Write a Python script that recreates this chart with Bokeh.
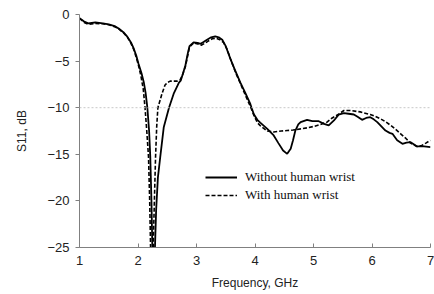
from bokeh.plotting import figure
from bokeh.models import Span, Legend, LegendItem, Range1d, FixedTicker
from bokeh.embed import file_html
from bokeh.resources import INLINE

freq_without = [1.00, 1.08, 1.15, 1.27, 1.40, 1.50, 1.60, 1.67, 1.75, 1.82, 1.88, 1.93, 1.97, 2.01, 2.06,
                2.10, 2.13, 2.16, 2.19, 2.21, 2.23, 2.245, 2.265, 2.29, 2.31, 2.34, 2.38, 2.44, 2.53, 2.61,
                2.70, 2.73, 2.77, 2.81, 2.85, 2.88, 2.95, 3.02, 3.07, 3.12, 3.18, 3.25, 3.32, 3.38, 3.44,
                3.50, 3.58, 3.66, 3.75, 3.84, 3.92, 3.98, 4.04, 4.09, 4.21, 4.32, 4.40, 4.48, 4.55, 4.61,
                4.65, 4.69, 4.74, 4.78, 4.89, 4.98, 5.09, 5.18, 5.26, 5.35, 5.43, 5.52, 5.60, 5.69, 5.76,
                5.83, 5.90, 5.97, 6.03, 6.09, 6.16, 6.23, 6.30, 6.35, 6.43, 6.52, 6.59, 6.66, 6.72, 6.77,
                6.89, 7.00]
s11_without = [-0.4, -0.75, -0.95, -0.85, -0.95, -1.05, -1.25, -1.5, -1.9, -2.4, -3.0, -3.7, -4.4, -5.3, -6.3,
               -7.3, -8.4, -10.0, -12.5, -15.3, -20.0, -25.0, -29.0, -25.0, -21.0, -17.5, -15.3, -12.1, -10.0, -8.5,
               -7.3, -7.1, -6.3, -5.47, -4.2, -3.4, -3.0, -3.05, -3.15, -2.95, -2.7, -2.45, -2.35, -2.45, -2.7,
               -3.4, -4.76, -6.0, -7.3, -8.5, -9.6, -10.7, -11.3, -11.6, -12.27, -12.98, -13.8, -14.6, -14.95, -14.4,
               -13.5, -12.45, -11.8, -11.55, -11.3, -11.45, -11.45, -11.73, -11.9, -11.37, -10.75, -10.59, -10.65, -10.73, -11.0,
               -11.3, -11.1, -11.02, -11.25, -11.55, -12.0, -12.45, -12.7, -12.8, -13.5, -13.87, -13.75, -13.7, -13.95, -14.16,
               -14.16, -14.24]

freq_with = [1.00, 1.08, 1.15, 1.27, 1.40, 1.50, 1.60, 1.67, 1.75, 1.82, 1.88, 1.93, 1.97, 2.01, 2.05,
             2.09, 2.12, 2.15, 2.18, 2.20, 2.215, 2.235, 2.26, 2.28, 2.30, 2.32, 2.34, 2.41, 2.46, 2.50,
             2.55, 2.67, 2.72, 2.76, 2.81, 2.85, 2.88, 2.95, 3.02, 3.08, 3.14, 3.20, 3.27, 3.33, 3.40,
             3.46, 3.52, 3.60, 3.68, 3.77, 3.86, 3.93, 3.98, 4.04, 4.10, 4.21, 4.32, 4.45, 4.55, 4.65,
             4.78, 4.90, 5.01, 5.12, 5.23, 5.32, 5.43, 5.52, 5.63, 5.80, 5.97, 6.06, 6.15, 6.23, 6.32,
             6.40, 6.49, 6.58, 6.66, 6.72, 6.77, 6.85, 6.92, 7.00]
s11_with = [-0.4, -0.85, -1.05, -0.95, -1.0, -1.1, -1.3, -1.55, -1.95, -2.45, -3.1, -3.8, -4.6, -5.5, -6.6,
            -8.0, -10.0, -12.5, -15.3, -20.0, -25.0, -29.0, -25.0, -20.0, -15.3, -12.0, -10.0, -8.5, -7.6, -7.3,
            -7.15, -7.15, -7.0, -6.5, -5.6, -4.4, -3.5, -3.05, -3.15, -3.3, -3.1, -2.85, -2.6, -2.55, -2.7,
            -3.0, -3.7, -5.1, -6.4, -7.7, -9.0, -10.0, -10.8, -11.6, -12.0, -12.5, -12.6, -12.5, -12.45, -12.4,
            -12.27, -12.15, -12.0, -11.8, -11.55, -11.1, -10.7, -10.3, -10.3, -10.45, -10.73, -10.95, -11.2, -11.5, -11.9,
            -12.3, -12.8, -13.3, -13.8, -14.0, -14.16, -14.05, -13.8, -13.5]

x_ticks = [1, 2, 3, 4, 5, 6, 7]
y_ticks = [0, -5, -10, -15, -20, -25]
series_labels = ["Without human wrist", "With human wrist"]

p = figure(width=434, height=294, output_backend="svg", toolbar_location=None,
           x_range=Range1d(1, 7), y_range=Range1d(-25, 0),
           min_border_left=79, min_border_right=4, min_border_top=14, min_border_bottom=47)
p.outline_line_color = None
p.xgrid.visible = False
p.ygrid.visible = False
p.background_fill_color = "white"

ref = Span(location=-10, dimension="width", line_color="#c8c8c8", line_dash="2 2", line_width=1)
p.add_layout(ref)

r1 = p.line(freq_without, s11_without, line_color="black", line_width=1.8)
r2 = p.line(freq_with, s11_with, line_color="black", line_width=1.6, line_dash="4 2")

for ax in (p.xaxis[0], p.yaxis[0]):
    ax.axis_line_color = "#808080"
    ax.major_tick_line_color = "#808080"
    ax.minor_tick_line_color = None
    ax.major_label_text_font = "Liberation Sans"
    ax.major_label_text_font_size = "13px"
    ax.major_label_text_color = "#222222"
    ax.axis_label_text_font = "Liberation Sans"
    ax.axis_label_text_font_size = "12px"
    ax.axis_label_text_font_style = "normal"
    ax.axis_label_text_color = "#222222"

p.xaxis.ticker = FixedTicker(ticks=x_ticks)
p.yaxis.ticker = FixedTicker(ticks=y_ticks)
p.xaxis.major_tick_in = 4
p.xaxis.major_tick_out = 0
p.yaxis.major_tick_in = 0
p.yaxis.major_tick_out = 4
p.xaxis.axis_label = "Frequency, GHz"
p.yaxis.axis_label = "S11, dB"
p.xaxis.major_label_standoff = 8
p.yaxis.major_label_standoff = 6
p.xaxis.axis_label_standoff = 8
p.yaxis.axis_label_standoff = 15

legend = Legend(items=[LegendItem(label=series_labels[0], renderers=[r1]),
                       LegendItem(label=series_labels[1], renderers=[r2])],
                location=(126, 44))
legend.background_fill_alpha = 0
legend.border_line_color = None
legend.label_text_font = "Liberation Serif"
legend.label_text_font_size = "13px"
legend.label_text_color = "#111111"
legend.glyph_width = 32
legend.glyph_height = 14
legend.label_height = 14
legend.spacing = 2
legend.padding = 0
legend.margin = 0
legend.label_standoff = 8
p.add_layout(legend)

open("out.html", "w").write(file_html(p, INLINE))
